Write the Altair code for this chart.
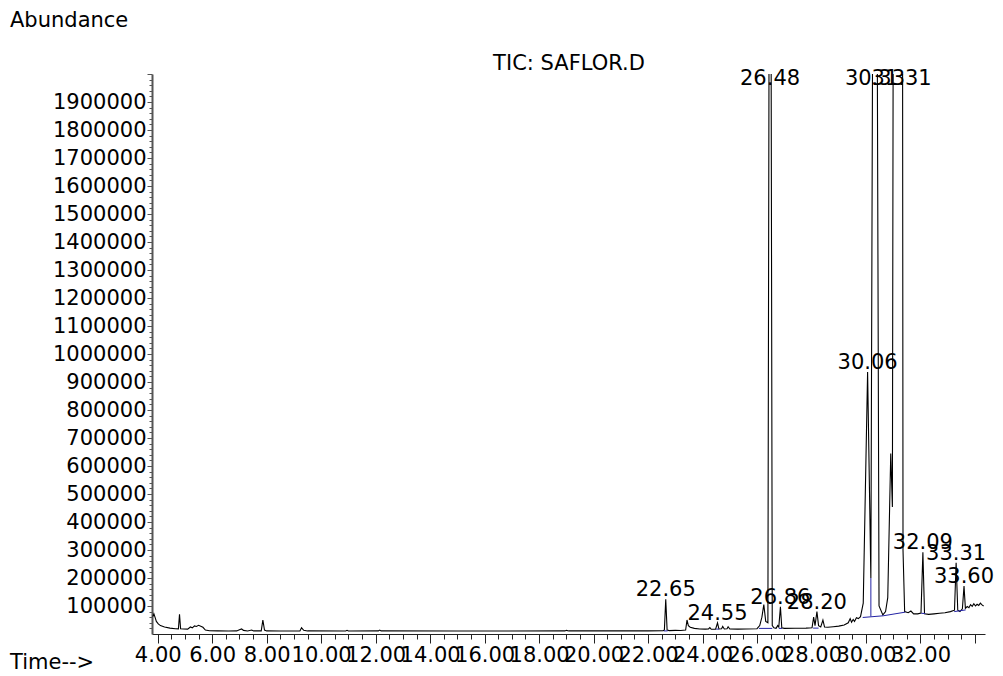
import altair as alt
import pandas as pd

# ---- chromatogram trace: baseline, valleys and unlabeled apexes (min, abundance)
base_time = [3.82, 3.86, 3.90, 3.95, 4.02, 4.10, 4.25, 4.45, 4.65, 4.76, 4.80, 4.84,
             4.95, 5.10, 5.20, 5.27, 5.35, 5.42, 5.50, 5.58, 5.66, 5.75, 5.90, 6.20,
             6.60, 6.90, 7.00, 7.08, 7.15, 7.30, 7.45, 7.52, 7.80, 7.86, 7.92, 8.00,
             8.50, 9.22, 9.28, 9.36, 9.50, 10.90, 10.95, 11.00, 12.10, 12.15, 12.20,
             15.00, 18.95, 19.00, 19.10, 21.00, 22.00, 22.55, 22.60, 22.70, 22.78,
             23.00, 23.20, 23.38, 23.43, 23.48, 23.55, 23.70, 23.90, 24.10, 24.22,
             24.27, 24.32, 24.48, 24.60, 24.70, 24.74, 24.80, 24.90, 24.94, 25.00,
             25.30, 25.60, 26.00, 26.10, 26.18, 26.25, 26.32, 26.40, 26.56, 26.62,
             26.70, 26.76, 26.80, 26.91, 27.00, 27.40, 27.80, 28.02, 28.08, 28.13,
             28.26, 28.34, 28.42, 28.48, 28.60, 28.80, 29.00, 29.20, 29.35, 29.42,
             29.47, 29.53, 29.58, 29.65, 29.72, 29.80, 29.90, 30.18, 30.48, 30.62,
             30.72, 30.80, 30.91, 30.97, 31.00, 31.36, 31.42, 31.55, 31.65, 31.75,
             31.90, 32.02, 32.15, 32.30, 32.50, 32.70, 32.90, 33.10, 33.25, 33.37,
             33.45, 33.54, 33.65, 33.72, 33.78, 33.84, 33.90, 33.96, 34.02, 34.08,
             34.14, 34.20, 34.26, 34.32]
base_abund = [62000, 72000, 60000, 45000, 36000, 30000, 25000, 21000, 19000, 18500, 70000, 19000,
              18000, 17500, 25000, 22000, 29000, 27000, 31000, 28000, 24000, 14000, 11500, 11000,
              10800, 11000, 15000, 18000, 13000, 11000, 14000, 11000, 11000, 50000, 14000, 11000,
              10800, 11000, 22000, 13000, 11000, 10800, 13000, 10800, 11000, 14000, 11000,
              10800, 11000, 13000, 11000, 11000, 11000, 11500, 14000, 14000, 12000,
              13000, 12500, 14000, 50000, 30000, 24000, 20000, 18000, 17500, 18000,
              23000, 17000, 17500, 18000, 19000, 27000, 18000, 18500, 26000, 18000,
              17500, 18000, 19000, 30000, 60000, 105000, 45000, 40000, 30000, 22000,
              20000, 30000, 25000, 22000, 20000, 20500, 21000, 22000, 60000, 30000,
              30000, 25000, 50000, 25000, 24000, 26000, 28000, 32000, 40000, 55000,
              42000, 52000, 45000, 58000, 55000, 62000, 110000, 200000, 100000, 68000,
              80000, 130000, 645000, 454000, 2200000, 300000, 80000, 76000, 82000, 72000,
              72000, 75000, 72000, 70000, 72000, 74000, 76000, 80000, 85000, 85000,
              80000, 90000, 92000, 98000, 94000, 105000, 99000, 108000, 100000, 106000,
              102000, 110000, 104000, 100000]

# ---- labelled peaks: retention time (min) and apex abundance
peak_time = [22.65, 24.55, 26.48, 26.86, 28.20, 30.06, 30.33, 31.31, 32.09, 33.31, 33.60]
peak_abund = [124000, 40000, 4000000, 97000, 80000, 936000, 4750000, 6000000, 292000, 254000, 171000]

# ---- integration baselines (blue): start time, start abundance, end time, end abundance
seg_t1 = [22.58, 24.50, 26.07, 26.80, 28.06, 29.88, 30.63, 30.18, 32.03, 33.24]
seg_v1 = [11000, 17500, 20000, 20000, 21000, 59000, 65000, 63000, 74000, 80000]
seg_t2 = [22.72, 24.60, 26.56, 26.92, 28.26, 30.63, 31.44, 30.18, 32.18, 33.66]
seg_v2 = [11000, 17500, 20000, 20000, 21000, 65000, 78000, 200000, 73000, 86000]

# ---- axes
x_ticks = [4.0 + 0.5 * i for i in range(61)]
y_ticks = [20000 * i for i in range(1, 101)]
X_DOMAIN = [3.79, 34.37]
Y_DOMAIN = [0, 2000000]
LABEL_CAP = 1950000

FONT = "DejaVu Sans"
FS = 21

trace = pd.DataFrame({
    "time": base_time + peak_time,
    "abundance": base_abund + peak_abund,
}).sort_values("time")

peaks = pd.DataFrame({
    "time": peak_time,
    "label_y": [min(v, LABEL_CAP) for v in peak_abund],
    "label": [f"{t:.2f}" for t in peak_time],
})

segs = pd.DataFrame({
    "seg": list(range(len(seg_t1))) * 2,
    "time": seg_t1 + seg_t2,
    "abundance": seg_v1 + seg_v2,
})

x_axis = alt.Axis(
    values=x_ticks, tickCount=len(x_ticks),
    labelExpr="(datum.value % 2 === 0 && datum.value < 33) ? format(datum.value, '.2f') : ''",
    tickSize={"condition": {"test": "datum.value % 2 === 0", "value": 9}, "value": 5},
    labelFont=FONT, labelFontSize=FS, labelColor="black", labelPadding=1,
    labelOverlap=False, labelFlush=False, grid=False, title=None,
    domainColor="#222222", tickColor="#222222", tickWidth=1,
)
y_axis = alt.Axis(
    values=y_ticks, tickCount=len(y_ticks),
    labelExpr="(datum.value % 100000 === 0 && datum.value < 1950000) ? format(datum.value, 'd') : ''",
    tickSize={"condition": {"test": "datum.value % 100000 === 0", "value": 5}, "value": 3},
    labelFont=FONT, labelFontSize=FS, labelColor="black", labelPadding=1,
    labelOverlap=False, labelFlush=False, grid=False, title=None,
    domainColor="#555555", domainWidth=2, tickColor="#555555", tickWidth=1,
)

x_enc = alt.X("time:Q", scale=alt.Scale(domain=X_DOMAIN, nice=False, zero=False), axis=x_axis)
y_enc = alt.Y("abundance:Q", scale=alt.Scale(domain=Y_DOMAIN, nice=False), axis=y_axis)

line = alt.Chart(trace).mark_line(color="black", strokeWidth=1.1, clip=True).encode(
    x=x_enc, y=y_enc
)

baselines = alt.Chart(segs).mark_line(color="#2323a5", strokeWidth=1, clip=True).encode(
    x="time:Q", y="abundance:Q", detail="seg:N"
)

labels = alt.Chart(peaks).mark_text(
    font=FONT, fontSize=FS, color="black", align="center", baseline="middle", dy=-9
).encode(x="time:Q", y=alt.Y("label_y:Q"), text="label:N")


def caption(text, x, y, align):
    return alt.Chart(pd.DataFrame({"t": [text]})).mark_text(
        font=FONT, fontSize=FS, color="black", align=align, baseline="middle"
    ).encode(text="t:N", x=alt.value(x), y=alt.value(y))


chart = alt.layer(
    line,
    baselines,
    labels,
    caption("Abundance", -142, -53, "left"),
    caption("TIC: SAFLOR.D", 417, -10, "center"),
    caption("Time-->", -142, 589, "left"),
).properties(
    width=833,
    height=560,
    autosize=alt.AutoSizeParams(type="none"),
    padding={"left": 152, "top": 74, "right": 18, "bottom": 42},
    background="white",
).configure_view(stroke=None)

chart.save("out.html", embed_options={"renderer": "svg", "actions": False})
